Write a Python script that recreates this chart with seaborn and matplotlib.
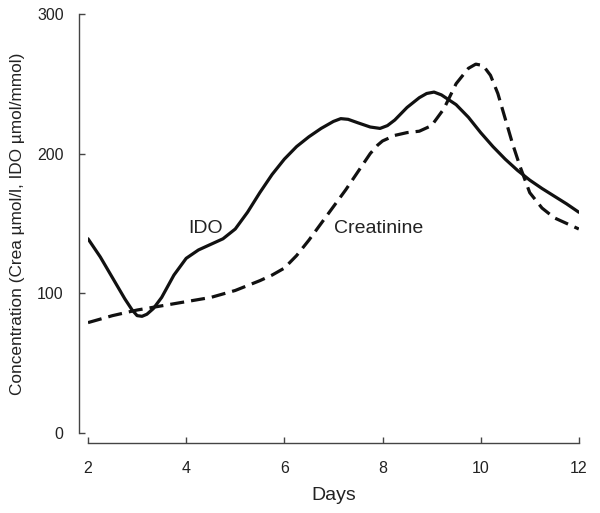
import matplotlib
matplotlib.use("Agg")
import matplotlib.pyplot as plt
import pandas as pd
import seaborn as sns

# values
ido_days = [2.0, 2.25, 2.5, 2.75, 2.9, 3.0, 3.1, 3.2, 3.33, 3.5, 3.75, 4.0, 4.25,
            4.5, 4.75, 5.0, 5.25, 5.5, 5.75, 6.0, 6.25, 6.5, 6.75, 7.0, 7.15,
            7.3, 7.5, 7.75, 7.95, 8.1, 8.25, 8.5, 8.75, 8.9, 9.05, 9.2, 9.5,
            9.75, 10.0, 10.25, 10.5, 10.75, 11.0, 11.25, 11.5, 11.75, 12.0]
ido_vals = [139, 126, 111, 96, 88, 84, 83.5, 85, 89, 97, 113, 125, 131,
            135, 139, 146, 158, 172, 185, 196, 205, 212, 218, 223, 225,
            224.5, 222, 219, 218, 220, 224, 233, 240, 243, 244, 242, 235,
            226, 215, 205, 196, 188, 181, 175, 169.5, 164, 158]

crea_days = [2.0, 2.5, 3.0, 3.5, 4.0, 4.5, 5.0, 5.5, 5.75, 6.0, 6.25, 6.5, 6.75,
             7.0, 7.25, 7.5, 7.75, 7.9, 8.0, 8.25, 8.5, 8.75, 9.0, 9.25, 9.5,
             9.75, 9.9, 10.05, 10.2, 10.35, 10.5, 10.65, 10.8, 11.0, 11.25,
             11.5, 11.75, 12.0]
crea_vals = [79, 84, 88, 91, 94, 97, 102, 109, 113, 118, 127, 138, 150,
             162, 174, 187, 200, 206, 209, 213, 215, 216, 220, 232, 250,
             261, 264, 263, 256, 243, 225, 207, 191, 172, 161,
             154, 150, 146]

df = pd.concat([
    pd.DataFrame({"Days": ido_days, "value": ido_vals, "series": "IDO"}),
    pd.DataFrame({"Days": crea_days, "value": crea_vals, "series": "Creatinine"}),
])

sns.set_style("ticks")
plt.rcParams["font.family"] = ["Liberation Sans", "DejaVu Sans"]

fig = plt.figure(figsize=(6, 5.13), dpi=100)
ax = fig.add_axes([0.1467, 0.156, 0.818, 0.817])

sns.lineplot(data=df, x="Days", y="value", hue="series", style="series",
             palette={"IDO": "#111111", "Creatinine": "#111111"},
             dashes={"IDO": "", "Creatinine": (4.4, 2.2)},
             linewidth=2.3, sort=False, estimator=None, legend=False, ax=ax)

ax.set_xlim(2, 12)
ax.set_ylim(0, 300)
ax.set_xticks([2, 4, 6, 8, 10, 12])
ax.set_yticks([0, 100, 200, 300])

sns.despine(ax=ax)
ax.spines["left"].set_position(("outward", 6.5))
ax.spines["bottom"].set_position(("outward", 7.2))
for s in ["left", "bottom"]:
    ax.spines[s].set_color("#444444")
    ax.spines[s].set_linewidth(1.0)

ax.tick_params(axis="both", direction="in", length=4, width=1.0,
               color="#444444", labelsize=11.5, labelcolor="#222222")
ax.tick_params(axis="y", pad=11)
ax.tick_params(axis="x", pad=13)

ax.set_xlabel("Days", fontsize=14, color="#222222", labelpad=8)
ax.set_ylabel("Concentration (Crea µmol/l, IDO µmol/mmol)", fontsize=12.4,
              color="#222222", labelpad=9)

ax.text(4.40, 146, "IDO", fontsize=14, ha="center", va="center", color="#222222")
ax.text(7.92, 146, "Creatinine", fontsize=14, ha="center", va="center", color="#222222")

fig.savefig("out.png", dpi=100)
